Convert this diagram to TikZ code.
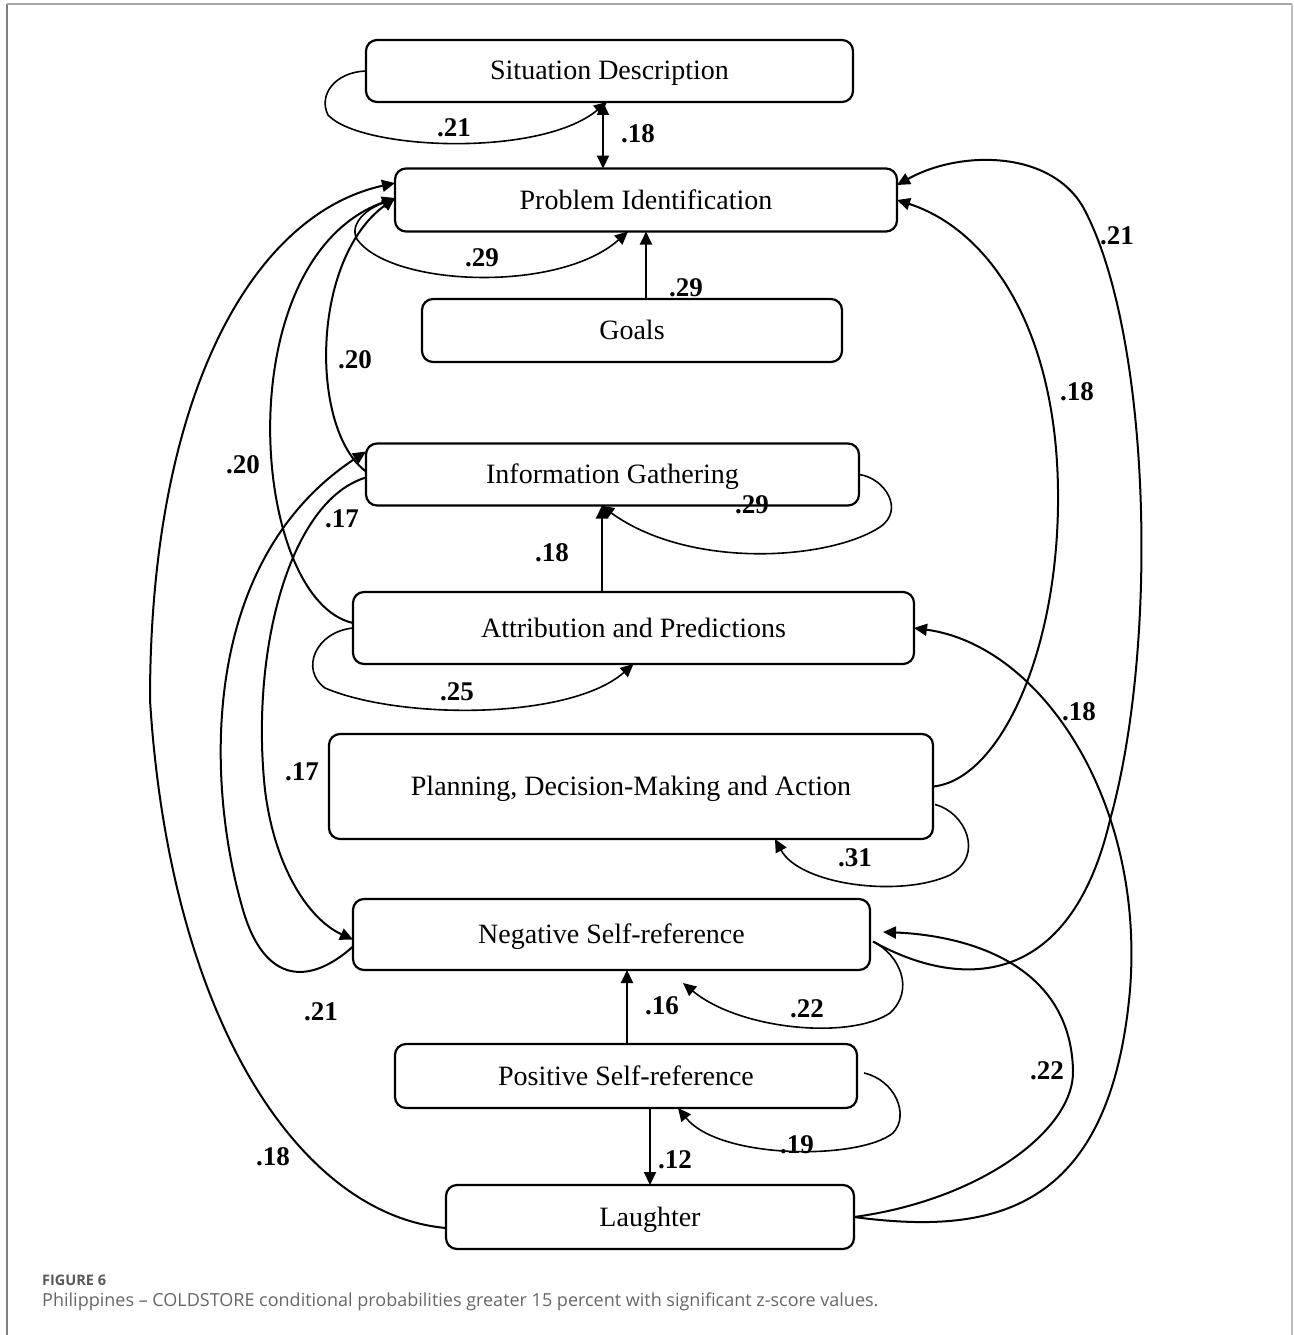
\documentclass[tikz,border=0pt]{standalone}
\usepackage{fontspec}
\setmainfont{Liberation Serif}
\newfontfamily\capfont{Open Sans}
\usetikzlibrary{arrows.meta,calc}

\begin{document}
\begin{tikzpicture}[x=1pt,y=-1pt,
  >={Triangle[length=13pt,width=12pt]},
  box/.style={draw, line width=2.2pt, rounded corners=11pt, inner sep=0pt, outer sep=0pt,
    text height=18pt, text depth=0pt, font=\fontsize{28}{30}\selectfont},
  link/.style={line width=2pt, ->},
  selfloop/.style={line width=1.6pt, ->},
  val/.style={font=\bfseries\fontsize{27}{29}\selectfont, inner sep=0pt}
]
\useasboundingbox (0,0) rectangle (1293,1335);

% frame of the figure panel
\draw[line width=2pt, black!50] (7,1335) -- (7,4);
\draw[line width=2pt, black!35] (7,4) -- (1292,4);
\draw[line width=1.5pt, black!25] (1292,4) -- (1292,1335);

% categories
\node[box, minimum width=487pt, minimum height=62pt] (sit)   at (609.5,71)   {Situation Description};
\node[box, minimum width=502pt, minimum height=63pt] (prob)  at (646,200)    {Problem Identification};
\node[box, minimum width=420pt, minimum height=63pt] (goals) at (632,330.5)  {Goals};
\node[box, minimum width=493pt, minimum height=62pt] (info)  at (612.5,474.5){Information Gathering};
\node[box, minimum width=561pt, minimum height=72pt] (attr)  at (633.5,628)  {Attribution and Predictions};
\node[box, minimum width=604pt, minimum height=105pt](plan)  at (631,786.5)  {Planning, Decision-Making and Action};
\node[box, minimum width=517pt, minimum height=71pt] (neg)   at (611.5,934.5){Negative Self-reference};
\node[box, minimum width=462pt, minimum height=64pt] (pos)   at (626,1076)   {Positive Self-reference};
\node[box, minimum width=408pt, minimum height=64pt] (laugh) at (650,1217)   {Laughter};

% self transitions
\draw[selfloop] (sit.west) .. controls (335,72) and (318,95) .. (328,115)
  .. controls (360,150) and (540,158) .. ([xshift=-2.5pt]sit.south);
\draw[selfloop] (prob.west) .. controls (365,205) and (345,228) .. (360,243)
  .. controls (400,287) and (560,292) .. ($(prob.south)+(-18,0)$);
\draw[selfloop] (info.east) .. controls (885,478) and (905,510) .. (880,527)
  .. controls (830,560) and (690,570) .. ($(info.south)+(-11.5,0)$);
\draw[selfloop] (attr.west) .. controls (315,632) and (300,670) .. (325,688)
  .. controls (400,720) and (570,720) .. (attr.south);
\draw[selfloop] ($(plan.east)+(2,18)$) .. controls (965,812) and (985,855) .. (950,875)
  .. controls (900,898) and (800,885) .. ($(plan.south)+(144,0)$);
\draw[selfloop] ($(neg.east)+(3,7)$) .. controls (900,955) and (915,990) .. (890,1013)
  .. controls (850,1040) and (740,1030) .. ($(neg.south)+(71.5,13)$);
\draw[selfloop] ($(pos.east)+(7,-3)$) .. controls (895,1080) and (910,1115) .. (893,1133)
  .. controls (860,1160) and (720,1160) .. ($(pos.south)+(52,0)$);

% straight transitions
\draw[line width=2pt, <->] ([xshift=-6.5pt]sit.south) -- ([xshift=-6.5pt]sit.south |- prob.north);
\draw[link] (prob.south |- goals.north) -- (prob.south);
\draw[link] ([xshift=-10.5pt]info.south |- attr.north) -- ([xshift=-10.5pt]info.south);
\draw[link] ([xshift=1pt]pos.north) -- ([xshift=1pt]pos.north |- neg.south);
\draw[link] (laugh.north |- pos.south) -- (laugh.north);

% curved transitions on the left
\draw[link] ($(info.west)+(0,-3)$) .. controls (310,430) and (310,260) .. ($(prob.west)+(0,-2)$);
\draw[link] ($(attr.west)+(0,-5)$) .. controls (250,600) and (225,260) .. ($(prob.west)+(0,-2)$);
\draw[link] ($(laugh.west)+(0,11)$) .. controls (300,1215) and (170,1020) .. (150,700)
  .. controls (150,400) and (250,215) .. ($(prob.west)+(0,-17)$);
\draw[link] ($(neg.west)+(0,12)$) .. controls (310,985) and (265,985) .. (243,910)
  .. controls (205,780) and (200,560) .. ($(info.west)+(0,-23)$);
\draw[link] ($(info.west)+(0,3)$) .. controls (290,500) and (250,650) .. (265,790)
  .. controls (275,870) and (310,920) .. ($(neg.west)+(0,5)$);

% curved transitions on the right
\draw[link] ($(neg.east)+(3,7)$) .. controls (960,990) and (1070,990) .. (1110,820)
  .. controls (1160,640) and (1150,330) .. (1083,207)
  .. controls (1050,150) and (960,150) .. ($(prob.east)+(0,-15)$);
\draw[link] (plan.east) .. controls (1000,780) and (1060,650) .. (1058,490)
  .. controls (1056,330) and (990,230) .. (prob.east);
\draw[link] (laugh.east) .. controls (990,1235) and (1110,1215) .. (1130,990)
  .. controls (1145,800) and (1040,645) .. (attr.east);
\draw[link] (laugh.east) .. controls (980,1200) and (1075,1130) .. (1073,1070)
  .. controls (1070,960) and (960,935) .. ($(neg.east)+(13,-2.5)$);

% transition probabilities
\node[val] (v1)  at (454,128)  {.21};
\node[val] (v2)  at (638,134)  {.18};
\node[val] (v3)  at (482,258)  {.29};
\node[val] (v4)  at (686,288)  {.29};
\node[val] (v5)  at (1117,236) {.21};
\node[val] (v6)  at (1077,392) {.18};
\node[val] (v7)  at (355,360)  {.20};
\node[val] (v8)  at (243,465)  {.20};
\node[val] (v9)  at (342,519)  {.17};
\node[val] (v10) at (552,553)  {.18};
\node[val] (v11) at (752,505)  {.29};
\node[val] (v12) at (457,692)  {.25};
\node[val] (v13) at (1079,712) {.18};
\node[val] (v14) at (302,772)  {.17};
\node[val] (v15) at (855,858)  {.31};
\node[val] (v16) at (321,1012) {.21};
\node[val] (v17) at (662,1006) {.16};
\node[val] (v18) at (807,1009) {.22};
\node[val] (v19) at (1047,1071){.22};
\node[val] (v20) at (797,1145) {.19};
\node[val] (v21) at (273,1157) {.18};
\node[val] (v22) at (675,1160) {.12};

% caption
\node[anchor=base west, inner sep=0pt, text=black!65,
  font=\capfont\bfseries\fontsize{14.5}{16}\selectfont] (fig) at (42,1285) {FIGURE 6};
\node[anchor=base west, inner sep=0pt, text=black!60,
  font=\capfont\fontsize{18}{21}\selectfont] (cap) at (42,1306)
  {Philippines – COLDSTORE conditional probabilities greater 15 percent with significant z-score values.};
\end{tikzpicture}
\end{document}
